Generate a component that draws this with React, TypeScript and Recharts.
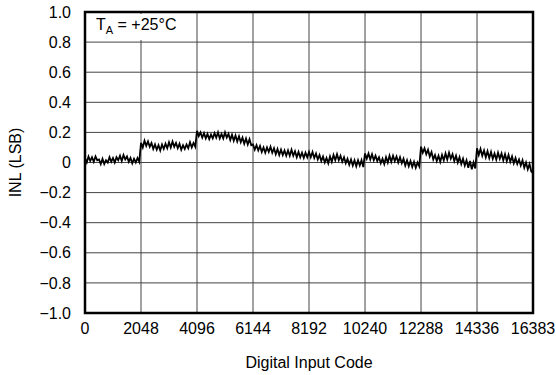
import { LineChart, Line, XAxis, YAxis, CartesianGrid, ReferenceArea } from 'recharts'

// INL readings, one value every 64 codes, one array per 2048-code block
const SEG_0 = [0.03, 0.0, 0.04, 0.01, 0.035, 0.005, 0.04, 0.015, 0.02, -0.01, 0.025, -0.01, 0.015, 0.0, 0.035, 0.005, 0.03, 0.0, 0.035, 0.015, 0.045, 0.01, 0.05, 0.02, 0.04, 0.005, 0.03, -0.005, 0.025, 0.0, 0.03, 0.005]
const SEG_1 = [0.13, 0.1, 0.145, 0.11, 0.14, 0.105, 0.13, 0.09, 0.12, 0.085, 0.115, 0.08, 0.12, 0.09, 0.125, 0.095, 0.135, 0.1, 0.14, 0.105, 0.13, 0.095, 0.125, 0.085, 0.115, 0.09, 0.12, 0.095, 0.135, 0.1, 0.13, 0.105]
const SEG_2 = [0.21, 0.175, 0.2, 0.165, 0.195, 0.16, 0.19, 0.155, 0.185, 0.16, 0.195, 0.165, 0.2, 0.16, 0.19, 0.16, 0.2, 0.165, 0.19, 0.15, 0.185, 0.145, 0.18, 0.14, 0.175, 0.135, 0.165, 0.125, 0.16, 0.12, 0.155, 0.115]
const SEG_3 = [0.12, 0.085, 0.115, 0.08, 0.11, 0.07, 0.1, 0.065, 0.1, 0.07, 0.105, 0.065, 0.095, 0.055, 0.09, 0.05, 0.085, 0.05, 0.08, 0.045, 0.08, 0.045, 0.085, 0.045, 0.075, 0.035, 0.07, 0.035, 0.065, 0.03, 0.065, 0.035]
const SEG_4 = [0.07, 0.035, 0.07, 0.03, 0.06, 0.02, 0.05, 0.01, 0.04, 0.0, 0.03, -0.005, 0.04, 0.005, 0.05, 0.015, 0.055, 0.015, 0.045, 0.005, 0.035, -0.005, 0.025, -0.015, 0.02, -0.02, 0.015, -0.025, 0.015, -0.02, 0.015, -0.03]
const SEG_5 = [0.06, 0.025, 0.06, 0.02, 0.055, 0.015, 0.045, 0.01, 0.035, -0.005, 0.025, -0.01, 0.035, 0.0, 0.045, 0.005, 0.045, 0.01, 0.04, 0.0, 0.035, -0.005, 0.025, -0.02, 0.015, -0.025, 0.01, -0.03, 0.005, -0.035, 0.0, -0.025]
const SEG_6 = [0.105, 0.065, 0.095, 0.055, 0.085, 0.04, 0.07, 0.02, 0.05, 0.01, 0.045, 0.005, 0.05, 0.015, 0.06, 0.02, 0.065, 0.025, 0.055, 0.01, 0.045, 0.0, 0.035, -0.01, 0.025, -0.02, 0.015, -0.035, 0.01, -0.045, 0.0, -0.04]
const SEG_7 = [0.095, 0.05, 0.09, 0.045, 0.08, 0.035, 0.075, 0.03, 0.07, 0.025, 0.06, 0.02, 0.065, 0.025, 0.06, 0.015, 0.055, 0.01, 0.05, 0.005, 0.04, -0.005, 0.03, -0.01, 0.02, -0.02, 0.015, -0.035, 0.0, -0.045, -0.01, -0.06]
const LAST_POINT = { code: 16383, inl: -0.07 }

const SEGMENTS = [SEG_0, SEG_1, SEG_2, SEG_3, SEG_4, SEG_5, SEG_6, SEG_7]
const SEG_LEN = 2048
const STEP = 64

const X_TICKS = [0, 2048, 4096, 6144, 8192, 10240, 12288, 14336, 16383]
const Y_TICKS = [-1, -0.8, -0.6, -0.4, -0.2, 0, 0.2, 0.4, 0.6, 0.8, 1]

const data = [
  ...SEGMENTS.flatMap((seg, s) => seg.map((v, i) => ({ code: s * SEG_LEN + i * STEP, inl: v }))),
  LAST_POINT,
]

const FONT = '"Liberation Sans", Arial, sans-serif'
const fmtY = (v: number) => (v === 0 ? '0' : v < 0 ? `\u2212${Math.abs(v).toFixed(1)}` : v.toFixed(1))

export default function App() {
  return (
    <div style={{ position: 'absolute', left: 0, top: 0, width: 556, height: 375, background: '#fff' }}>
      <LineChart width={556} height={375} data={data} margin={{ top: 12, right: 23, bottom: 10, left: 0 }}>
        <CartesianGrid stroke="#444" strokeWidth={1} />
        <XAxis
          dataKey="code"
          type="number"
          domain={[0, 16383]}
          ticks={X_TICKS}
          interval={0}
          tickLine={false}
          axisLine={false}
          tickSize={0}
          tickMargin={10}
          height={52}
          tick={{ fill: '#000', fontSize: 16, fontFamily: FONT }}
          label={{ value: 'Digital Input Code', position: 'insideBottom', offset: -3, fill: '#000', fontSize: 16, fontFamily: FONT }}
        />
        <YAxis
          type="number"
          domain={[-1, 1]}
          ticks={Y_TICKS}
          interval={0}
          tickFormatter={fmtY}
          tickLine={false}
          axisLine={false}
          tickSize={0}
          tickMargin={14}
          width={85}
          tick={{ fill: '#000', fontSize: 16, fontFamily: FONT }}
          label={{ value: 'INL (LSB)', angle: -90, position: 'insideLeft', offset: 15, fill: '#000', fontSize: 16, fontFamily: FONT, style: { textAnchor: 'middle' } }}
        />
        <ReferenceArea x1={0} x2={16383} y1={-1} y2={1} fill="none" stroke="#000" strokeWidth={2.5} ifOverflow="visible" />
        <Line type="linear" dataKey="inl" stroke="#000" strokeWidth={1.8} dot={false} isAnimationActive={false} />
      </LineChart>
      <svg width={556} height={375} style={{ position: 'absolute', left: 0, top: 0, pointerEvents: 'none' }}>
        <rect x={87} y={14} width={100} height={26} fill="#fff" />
        <text x={96} y={30} fontFamily={FONT} fontSize={16} fill="#000">
          T<tspan fontSize={11} dy={4}>A</tspan>
          <tspan dy={-4}> = +25°C</tspan>
        </text>
      </svg>
    </div>
  )
}
